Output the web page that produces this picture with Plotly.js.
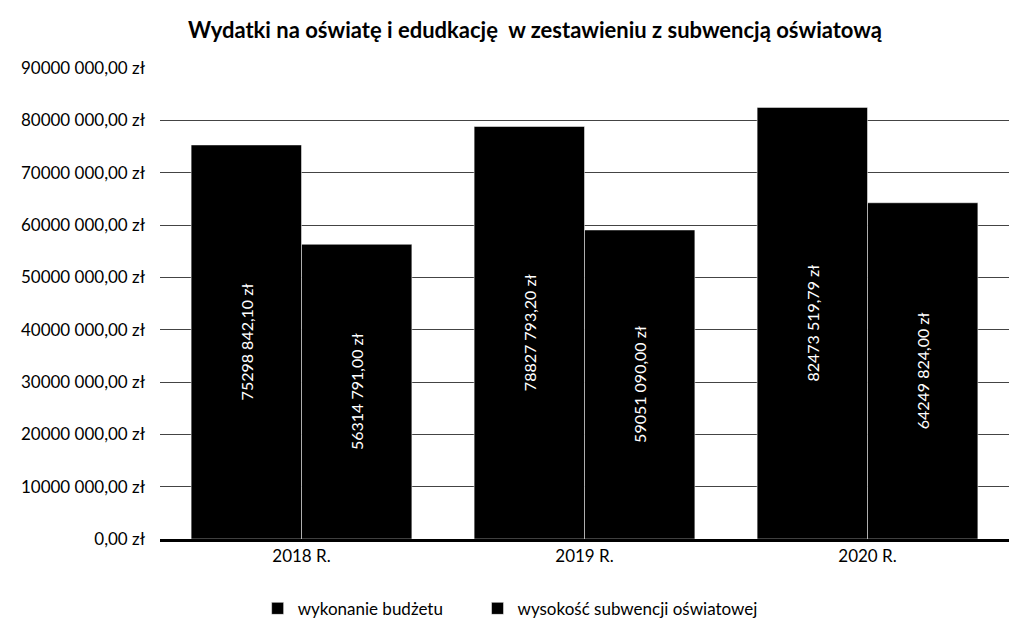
<!DOCTYPE html>
<html>
<head>
<meta charset="utf-8">
<script src="https://cdn.plot.ly/plotly-3.0.1.min.js"></script>
<style>html,body{margin:0;padding:0;background:#fff;}#chart{width:1019px;height:637px;}</style>
</head>
<body>
<div id="chart"></div>
<script>
const categories = ["2018 R.", "2019 R.", "2020 R."];
const budgetValues = [75298842.10, 78827793.20, 82473519.79];
const subsidyValues = [56314791.00, 59051090.00, 64249824.00];
const budgetLabels = ["75298 842,10 zł", "78827 793,20 zł", "82473 519,79 zł"];
const subsidyLabels = ["56314 791,00 zł", "59051 090,00 zł", "64249 824,00 zł"];
const tickValues = [0, 10000000, 20000000, 30000000, 40000000, 50000000, 60000000, 70000000, 80000000, 90000000];
const tickLabels = ["0,00 zł", "10000 000,00 zł", "20000 000,00 zł", "30000 000,00 zł", "40000 000,00 zł", "50000 000,00 zł", "60000 000,00 zł", "70000 000,00 zł", "80000 000,00 zł", "90000 000,00 zł"];
const seriesNames = ["wykonanie budżetu", "wysokość subwencji oświatowej"];
const chartTitle = "Wydatki na oświatę i edudkację  w zestawieniu z subwencją oświatową";

const FONT = "Lato, 'Open Sans', sans-serif";
const common = {
  type: "bar",
  x: categories,
  marker: {color: "#000000", line: {color: "#ffffff", width: 0.5}},
  textposition: "inside",
  insidetextanchor: "middle",
  textangle: -90,
  textfont: {color: "#ffffff", size: 16, family: FONT},
  hoverinfo: "none"
};
const data = [
  Object.assign({}, common, {name: seriesNames[0], y: budgetValues, text: budgetLabels, legend: "legend"}),
  Object.assign({}, common, {name: seriesNames[1], y: subsidyValues, text: subsidyLabels, legend: "legend2"})
];
const legendCommon = {orientation: "h", xanchor: "left", y: -0.11, yanchor: "top",
                      font: {size: 17, color: "#000"}, itemwidth: 30, bgcolor: "rgba(0,0,0,0)"};
const layout = {
  width: 1019, height: 637,
  paper_bgcolor: "#ffffff", plot_bgcolor: "#ffffff",
  margin: {l: 160, r: 10, t: 68, b: 91},
  barmode: "group", bargap: 0.22, bargroupgap: 0,
  title: {text: "<b>" + chartTitle + "</b>", x: 0.525, xanchor: "center", y: 0.952, yanchor: "middle",
          font: {family: FONT, size: 22, color: "#000"}},
  font: {family: FONT, color: "#000"},
  xaxis: {tickfont: {size: 17, color: "#000"}, showline: true, linecolor: "#000", linewidth: 2.5,
          ticks: "", showgrid: false},
  yaxis: {range: [0, 90000000], tickvals: tickValues, ticktext: tickLabels, tickfont: {size: 17, color: "#000"},
          showgrid: true, gridcolor: "#444", gridwidth: 1, zeroline: false, showline: false, ticks: "", ticklen: 0,
          ticklabelstandoff: 14, automargin: false},
  showlegend: true,
  legend: Object.assign({}, legendCommon, {x: 0.115}),
  legend2: Object.assign({}, legendCommon, {x: 0.374})
};
Plotly.newPlot("chart", data, layout, {staticPlot: true});
</script>
</body>
</html>
